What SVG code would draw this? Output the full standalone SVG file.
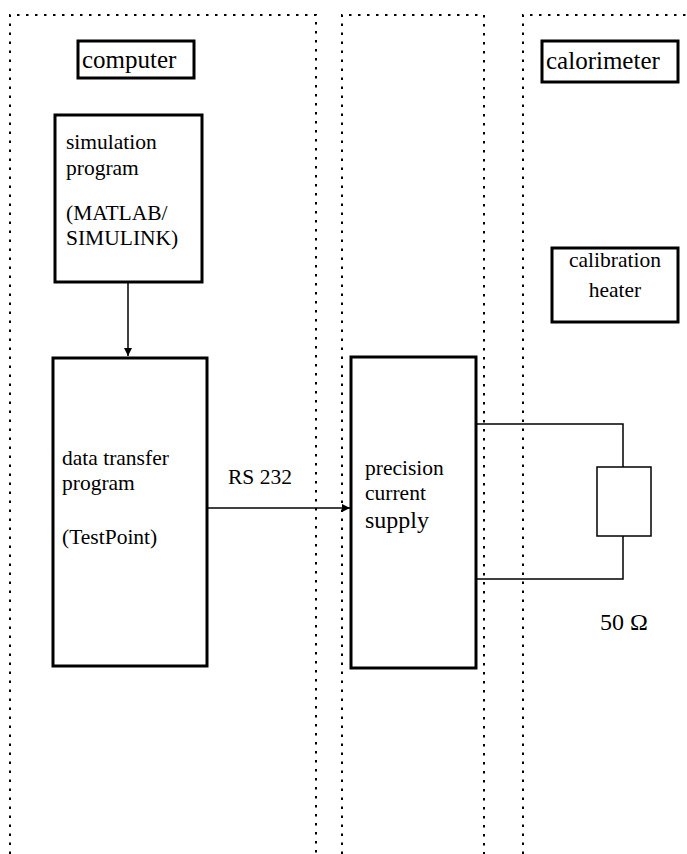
<svg xmlns="http://www.w3.org/2000/svg" width="687" height="854" viewBox="0 0 687 854">
<style>
.frame{fill:none;stroke:#000;stroke-width:2;stroke-dasharray:2.5 6.5}
.box{fill:#fff;stroke:#000;stroke-width:3}
.wire{fill:none;stroke:#000;stroke-width:1.5}
text{font-family:"Liberation Serif","Times New Roman",serif;fill:#000}
.t{font-size:21.5px}
.h{font-size:25px}
</style>
<defs>
<marker id="ah" viewBox="0 0 10 10" refX="10" refY="5" markerWidth="8" markerHeight="8" markerUnits="userSpaceOnUse" orient="auto">
<path d="M0,0 L10,5 L0,10 Z" fill="#000"/>
</marker>
</defs>
<g id="frames">
<path class="frame" d="M10,854 V15 H316 V854"/>
<path class="frame" d="M342,854 V15 H484 V854"/>
<path class="frame" d="M523,854 V15 H687"/>
</g>
<g id="connectors">
<line class="wire" x1="128" y1="282" x2="128" y2="356" marker-end="url(#ah)"/>
<line class="wire" x1="207" y1="508" x2="350" y2="508" marker-end="url(#ah)"/>
<polyline class="wire" points="476,424 623,424 623,467"/>
<polyline class="wire" points="623,536 623,579 476,579"/>
</g>
<g id="computer-label">
<rect class="box" x="78" y="41" width="116" height="37"/>
<text class="h" x="82" y="68">computer</text>
</g>
<g id="calorimeter-label">
<rect class="box" x="542" y="41" width="136" height="41"/>
<text class="h" x="546" y="69">calorimeter</text>
</g>
<g id="simulation">
<rect class="box" x="55" y="115" width="147" height="167"/>
<text class="t" x="66" y="149">simulation</text>
<text class="t" x="66" y="175">program</text>
<text class="t" x="66" y="220">(MATLAB/</text>
<text class="t" x="66" y="245">SIMULINK)</text>
</g>
<g id="data-transfer">
<rect class="box" x="53" y="358" width="154" height="308"/>
<text class="t" x="62" y="465">data transfer</text>
<text class="t" x="62" y="490">program</text>
<text class="t" x="62" y="544">(TestPoint)</text>
</g>
<g id="rs232-label">
<text class="t" x="228" y="484">RS 232</text>
</g>
<g id="precision-supply">
<rect class="box" x="351" y="357" width="125" height="311"/>
<text class="t" x="365" y="475">precision</text>
<text class="t" x="365" y="500">current</text>
<text x="365" y="528" style="font-size:24px">supply</text>
</g>
<g id="calibration-heater">
<rect class="box" x="552" y="248" width="126" height="74"/>
<text class="t" x="615" y="267" text-anchor="middle">calibration</text>
<text class="t" x="615" y="297" text-anchor="middle">heater</text>
</g>
<g id="resistor">
<rect class="wire" x="597" y="467" width="54" height="69" fill="#fff"/>
<text x="600" y="630" style="font-size:24px">50 Ω</text>
</g>
</svg>
